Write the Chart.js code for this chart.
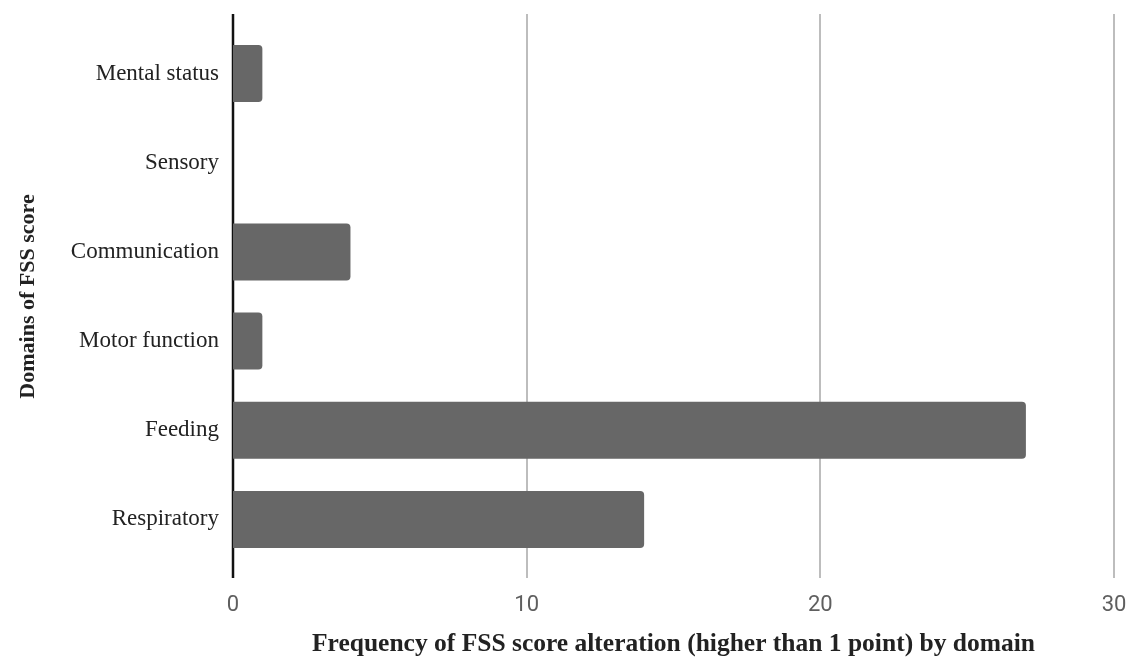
<!DOCTYPE html>
<html>
<head>
<meta charset="utf-8">
<script src="https://cdn.jsdelivr.net/npm/chart.js@4"></script>
<style>
  body { margin: 0; background: #fff; }
  #wrap { width: 1131px; height: 660px; }
</style>
</head>
<body>
<div id="wrap"><canvas id="chart"></canvas></div>
<script>
// data
const domains = ['Mental status', 'Sensory', 'Communication', 'Motor function', 'Feeding', 'Respiratory'];
const frequency = [1, 0, 4, 1, 27, 14];
const xTicks = [0, 10, 20, 30];

const xTitle = 'Frequency of FSS score alteration (higher than 1 point) by domain';
const yTitle = 'Domains of FSS score';

// grid lines run a bit past the plot area, like in the original
const longGrid = {
  id: 'longGrid',
  beforeDatasetsDraw(chart) {
    const { ctx, chartArea } = chart;
    const x = chart.scales.x;
    ctx.save();
    x.ticks.forEach(t => {
      const px = Math.round(x.getPixelForValue(t.value));
      ctx.strokeStyle = t.value === 0 ? '#111' : '#bdbdbd';
      ctx.lineWidth = t.value === 0 ? 2.5 : 2;
      ctx.beginPath();
      ctx.moveTo(px, chartArea.top - 15);
      ctx.lineTo(px, chartArea.bottom + 14);
      ctx.stroke();
    });
    ctx.restore();
  }
};

const ctx = document.getElementById('chart');
new Chart(ctx, {
  type: 'bar',
  data: {
    labels: domains,
    datasets: [{
      data: frequency,
      backgroundColor: '#676767',
      borderWidth: 0,
      borderRadius: 4,
      barPercentage: 0.64,
      categoryPercentage: 1
    }]
  },
  options: {
    indexAxis: 'y',
    responsive: true,
    maintainAspectRatio: false,
    animation: false,
    layout: { padding: { top: 29, right: 17, bottom: 0, left: 0 } },
    plugins: {
      legend: { display: false },
      tooltip: { enabled: false }
    },
    scales: {
      x: {
        min: 0,
        max: 30,
        afterBuildTicks(scale) {
          scale.ticks = xTicks.map(v => ({ value: v }));
        },
        afterFit(scale) {
          scale.height = 96;
          scale.paddingLeft = 0;
          scale.paddingRight = 0;
        },
        grid: { display: false, drawTicks: false },
        border: { display: false },
        ticks: {
          padding: 28,
          color: '#5f5f5f',
          font: { family: 'Roboto', size: 22 }
        },
        title: {
          display: true,
          text: xTitle,
          color: '#222',
          font: { family: '"Liberation Serif"', size: 25.5, weight: 'bold' },
          padding: 0
        }
      },
      y: {
        afterFit(scale) { scale.width = 233; },
        grid: { display: false, drawTicks: false },
        border: { display: false },
        ticks: {
          padding: 14,
          color: '#222',
          font: { family: '"Liberation Serif"', size: 23 }
        },
        title: {
          display: true,
          text: yTitle,
          color: '#222',
          font: { family: '"Liberation Serif"', size: 22, weight: 'bold' },
          padding: { top: 15, bottom: 0 }
        }
      }
    }
  },
  plugins: [longGrid]
});
</script>
</body>
</html>
